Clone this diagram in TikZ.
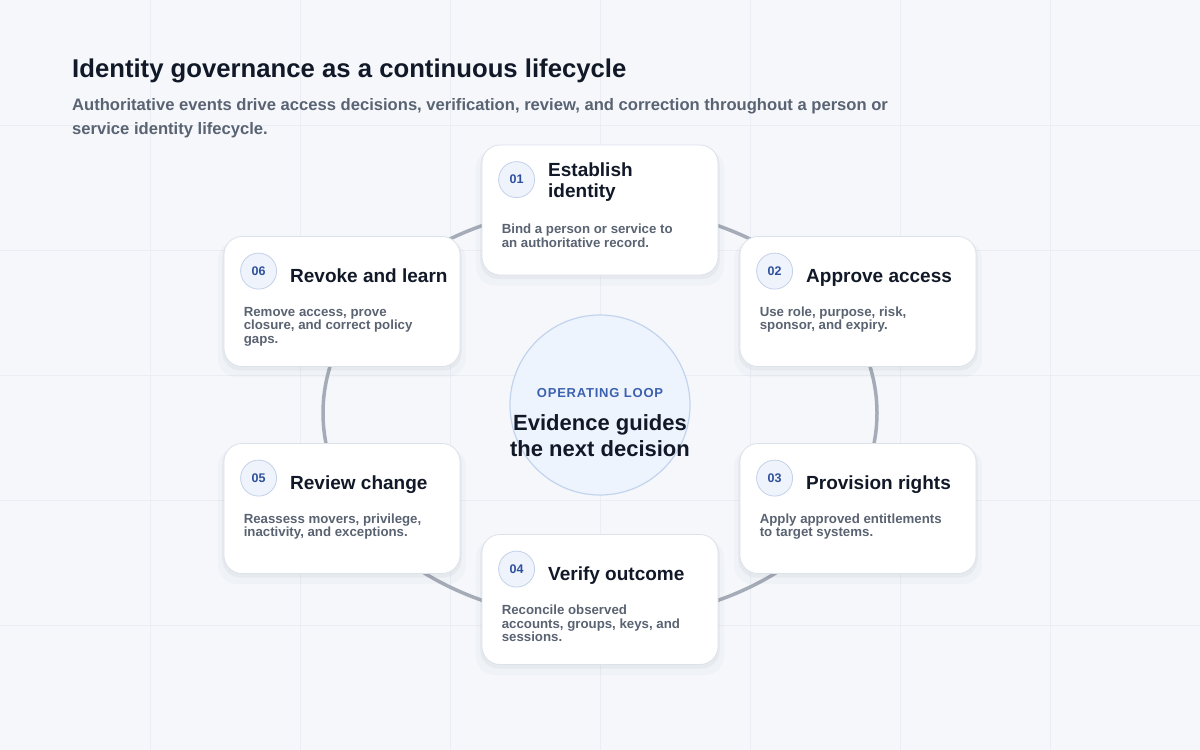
\documentclass[tikz,border=0pt]{standalone}
\usepackage{fontspec}
\setmainfont{Liberation Sans}
\usetikzlibrary{positioning,shadows}

\definecolor{bgpaper}{HTML}{F5F7FB}
\definecolor{gridline}{HTML}{EAEDF3}
\definecolor{ink}{HTML}{111827}
\definecolor{slatetext}{HTML}{5A6372}
\definecolor{ringgray}{HTML}{A6ACB7}
\definecolor{cardline}{HTML}{DCE2EA}
\definecolor{badgefill}{HTML}{EEF3FC}
\definecolor{badgeline}{HTML}{C3D1E9}
\definecolor{badgeblue}{HTML}{2E509C}
\definecolor{hubfill}{HTML}{EEF4FD}
\definecolor{hubline}{HTML}{C2D3EE}
\definecolor{loopblue}{HTML}{3C61AF}
\definecolor{shadowtone}{HTML}{1E2A44}

\tikzset{
  card/.style={draw=cardline, line width=0.8pt, fill=white, rounded corners=18pt,
    minimum width=236pt, minimum height=130pt, inner sep=0pt,
    general shadow={shadow yshift=-7pt, shadow scale=1.05, fill=shadowtone, opacity=0.025},
    general shadow={shadow yshift=-3pt, shadow scale=1.015, fill=shadowtone, opacity=0.04}},
  badge/.style={circle, draw=badgeline, line width=0.8pt, fill=badgefill, minimum size=36pt,
    inner sep=0pt, text=badgeblue, font=\fontsize{12.5}{14}\selectfont\bfseries},
  cardtitle/.style={anchor=base west, inner sep=0pt, align=left, text=ink,
    font=\fontsize{19}{21}\selectfont\bfseries},
  carddesc/.style={anchor=base west, inner sep=0pt, align=left, text=slatetext,
    font=\fontsize{13.25}{13.5}\selectfont\bfseries},
  ring/.style={draw=ringgray, line width=3.5pt}
}

\begin{document}
\begin{tikzpicture}[x=1pt, y=-1pt]
\useasboundingbox (0,0) rectangle (1200,750);
\fill[bgpaper] (0,0) rectangle (1200,750);
\foreach \gx in {150,300,...,1050} \draw[gridline] (\gx,0) -- (\gx,750);
\foreach \gy in {125,250,...,625} \draw[gridline] (0,\gy) -- (1200,\gy);

\node (title) [anchor=base west, inner sep=0pt, text=ink, font=\fontsize{25.7}{30}\selectfont\bfseries] at (72,77) {Identity governance as a continuous lifecycle};
\node (subtitle) [anchor=base west, inner sep=0pt, align=left, text=slatetext, font=\fontsize{16.6}{24}\selectfont\bfseries] at (72,134) {Authoritative events drive access decisions, verification, review, and correction throughout a person or\\service identity lifecycle.};

\draw[ring] (600,413) ellipse [x radius=277pt, y radius=207pt];

\node (hub) [circle, draw=hubline, line width=1.2pt, fill=hubfill, minimum size=180pt] at (600,405) {};
\node (looplabel) [anchor=base, inner sep=0pt, text=loopblue, font=\fontsize{13}{15}\selectfont\bfseries\addfontfeature{LetterSpace=6}] at (600,397) {OPERATING LOOP};
\node (hubtext) [anchor=base, inner sep=0pt, align=center, text=ink, font=\fontsize{22}{26}\selectfont\bfseries] at (600,456) {Evidence guides\\the next decision};

\node (c1) [card] at (600,210) {};
\node (b1) [badge] at ([xshift=35pt,yshift=-35pt]c1.north west) {01};
\node (t1) [cardtitle] at ([xshift=13pt,yshift=-18pt]b1.east) {Establish\\identity};
\node (d1) [carddesc] at ([xshift=20pt,yshift=-102.5pt]c1.north west) {Bind a person or service to\\an authoritative record.};

\node (c2) [card] at (858,301.5) {};
\node (b2) [badge] at ([xshift=35pt,yshift=-35pt]c2.north west) {02};
\node (t2) [cardtitle] at ([xshift=13pt,yshift=-11.5pt]b2.east) {Approve access};
\node (d2) [carddesc] at ([xshift=20pt,yshift=-93.5pt]c2.north west) {Use role, purpose, risk,\\sponsor, and expiry.};

\node (c3) [card] at (858,508.5) {};
\node (b3) [badge] at ([xshift=35pt,yshift=-35pt]c3.north west) {03};
\node (t3) [cardtitle] at ([xshift=13pt,yshift=-11.5pt]b3.east) {Provision rights};
\node (d3) [carddesc] at ([xshift=20pt,yshift=-93.5pt]c3.north west) {Apply approved entitlements\\to target systems.};

\node (c4) [card] at (600,599.5) {};
\node (b4) [badge] at ([xshift=35pt,yshift=-35pt]c4.north west) {04};
\node (t4) [cardtitle] at ([xshift=13pt,yshift=-11.5pt]b4.east) {Verify outcome};
\node (d4) [carddesc] at ([xshift=20pt,yshift=-107.5pt]c4.north west) {Reconcile observed\\accounts, groups, keys, and\\sessions.};

\node (c5) [card] at (342,508.5) {};
\node (b5) [badge] at ([xshift=35pt,yshift=-35pt]c5.north west) {05};
\node (t5) [cardtitle] at ([xshift=13pt,yshift=-11.5pt]b5.east) {Review change};
\node (d5) [carddesc] at ([xshift=20pt,yshift=-93.5pt]c5.north west) {Reassess movers, privilege,\\inactivity, and exceptions.};

\node (c6) [card] at (342,301.5) {};
\node (b6) [badge] at ([xshift=35pt,yshift=-35pt]c6.north west) {06};
\node (t6) [cardtitle] at ([xshift=13pt,yshift=-11.5pt]b6.east) {Revoke and learn};
\node (d6) [carddesc] at ([xshift=20pt,yshift=-107pt]c6.north west) {Remove access, prove\\closure, and correct policy\\gaps.};
\end{tikzpicture}
\end{document}
